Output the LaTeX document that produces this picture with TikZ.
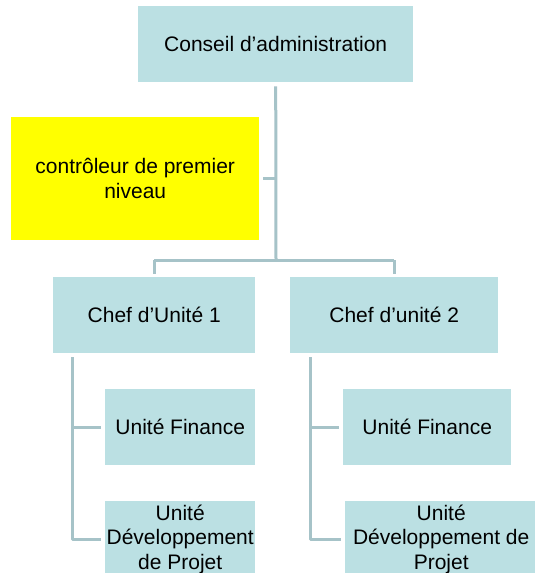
\documentclass[tikz,border=0pt]{standalone}
\usepackage{fontspec}
\setmainfont{Liberation Sans}
\definecolor{boxfill}{HTML}{BBE0E3}
\definecolor{linec}{HTML}{A6C3C8}
\definecolor{ylw}{HTML}{FFFF00}
\tikzset{
  orgbox/.style={fill=boxfill, draw=none, inner sep=0pt, anchor=north west, align=center,
    font=\fontsize{21}{24.5}\selectfont, text=black},
  ctrlbox/.style={orgbox, fill=ylw},
  conn/.style={draw=linec, line width=3pt, line join=round}
}
\begin{document}
\begin{tikzpicture}[x=1pt,y=-1pt]
\useasboundingbox (0,0) rectangle (535,573);
\clip (0,0) rectangle (535,573);
\fill[white] (0,0) rectangle (535,573);
\node[orgbox, minimum width=275pt, minimum height=76pt] (conseil) at (138,6) {Conseil d’administration};
\node[ctrlbox, minimum width=248pt, minimum height=123pt] (ctrl) at (11,117) {contrôleur de premier\\niveau};
\node[orgbox, minimum width=202pt, minimum height=76pt] (chef1) at (53,277) {Chef d’Unité 1};
\node[orgbox, minimum width=208pt, minimum height=76pt] (chef2) at (290,277) {Chef d’unité 2};
\node[orgbox, minimum width=150pt, minimum height=76pt] (fin1) at (105,389) {Unité Finance};
\node[orgbox, minimum width=168pt, minimum height=76pt] (fin2) at (343,389) {Unité Finance};
\node[orgbox, minimum width=150pt, minimum height=76pt] (udp1) at (105,501) {Unité\\Développement\\de Projet};
\node[orgbox, minimum width=192pt, minimum height=76pt] (udp2) at (345,501) {Unité\\Développement de\\Projet};
\coordinate (j) at (276,260);
\coordinate (s1) at (72,357);
\coordinate (s2) at (310,357);
% connectors
\draw[conn, shorten <=4pt] (conseil.south) -- (j);
\draw[conn, shorten <=4pt] (ctrl.east) -- (ctrl.east -| j);
\draw[conn, shorten >=3pt] (chef1.north) ++(0,0) coordinate (c1n) (c1n |- j) -- (c1n);
\draw[conn] (chef1.north |- j) -- (chef2.north |- j);
\draw[conn, shorten >=3pt] (chef2.north |- j) -- (chef2.north);
\draw[conn, shorten >=4pt] (s1) |- (udp1.west);
\draw[conn, shorten >=4pt] (s1 |- fin1.west) -- (fin1.west);
\draw[conn, shorten >=4pt] (s2) |- (udp2.west);
\draw[conn, shorten >=4pt] (s2 |- fin2.west) -- (fin2.west);
\end{tikzpicture}
\end{document}
